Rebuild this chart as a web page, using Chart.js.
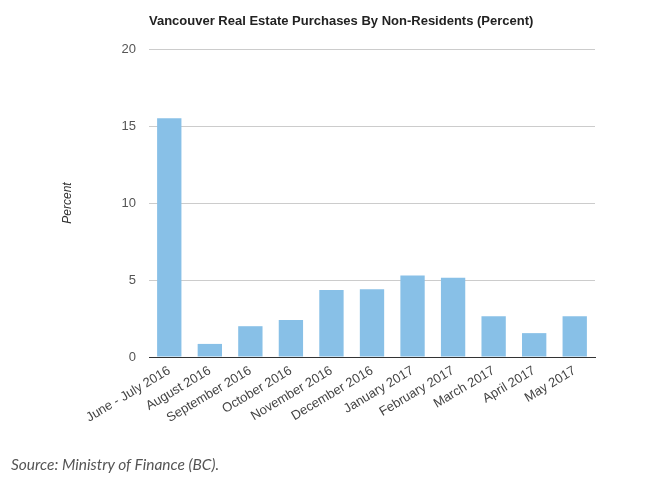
<!DOCTYPE html>
<html>
<head>
<meta charset="utf-8">
<script src="https://cdn.jsdelivr.net/npm/chart.js@4.4.0/dist/chart.umd.min.js"></script>
<style>
  body { margin: 0; background: #fff; }
  #wrap { position: relative; width: 658px; height: 486px; }
  #source {
    position: absolute; left: 11px; top: 457px;
    font-family: Lato, sans-serif; font-style: italic; font-size: 15.5px;
    line-height: 1; color: #555;
  }
</style>
</head>
<body>
<div id="wrap">
  <canvas id="chart" width="658" height="486"></canvas>
  <div id="source">Source: Ministry of Finance (BC).</div>
</div>
<script>
// データ
const months = ['June - July 2016', 'August 2016', 'September 2016', 'October 2016',
  'November 2016', 'December 2016', 'January 2017', 'February 2017',
  'March 2017', 'April 2017', 'May 2017'];
const percentNonResident = [15.5, 0.85, 2.0, 2.4, 4.35, 4.4, 5.3, 5.15, 2.65, 1.55, 2.65];
const yTicks = [0, 5, 10, 15, 20];

const ctx = document.getElementById('chart');

new Chart(ctx, {
  type: 'bar',
  data: {
    labels: months,
    datasets: [{
      data: percentNonResident,
      backgroundColor: '#88c0e7',
      barPercentage: 0.6,
      categoryPercentage: 1.0,
    }],
  },
  options: {
    responsive: false,
    animation: false,
    layout: { padding: { left: 0, right: 63, top: 0, bottom: 0 } },
    plugins: {
      legend: { display: false },
      tooltip: { enabled: false },
      title: {
        display: true,
        text: 'Vancouver Real Estate Purchases By Non-Residents (Percent)',
        align: 'start',
        fullSize: false,
        color: '#222',
        font: { family: '"Liberation Sans", Arial, sans-serif', size: 13, weight: 'bold' },
        padding: { top: 14, bottom: 19.4 },
      },
    },
    scales: {
      x: {
        grid: { display: false, drawTicks: false },
        border: { display: true, color: '#333', width: 1 },
        ticks: {
          color: '#444',
          font: { family: '"Liberation Sans", Arial, sans-serif', size: 13 },
          minRotation: 31,
          maxRotation: 31,
          padding: 6,
          autoSkip: false,
        },
        afterFit: (scale) => { scale.height = 486 - 357; },
      },
      y: {
        min: 0,
        max: 20,
        afterBuildTicks: (scale) => { scale.ticks = yTicks.map(v => ({ value: v })); },
        grid: { color: '#cccccc', drawTicks: false },
        border: { display: false },
        ticks: {
          color: '#555',
          font: { family: '"Liberation Sans", Arial, sans-serif', size: 13 },
          padding: 13,
        },
        title: {
          display: true,
          text: 'Percent',
          color: '#333',
          font: { family: '"Liberation Sans", Arial, sans-serif', size: 12, style: 'italic' },
          padding: { top: 60, bottom: 0 },
        },
        afterFit: (scale) => { scale.width = 149; },
      },
    },
  },
});
</script>
</body>
</html>
